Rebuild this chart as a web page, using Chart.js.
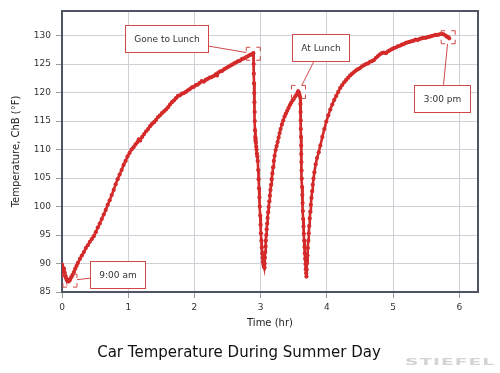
<!DOCTYPE html>
<html><head><meta charset="utf-8">
<script src="https://cdn.jsdelivr.net/npm/chart.js@4/dist/chart.umd.min.js"></script>
<style>html,body{margin:0;padding:0;background:#fff}canvas{display:block}</style>
</head><body>
<canvas id="c" width="500" height="373"></canvas>
<script>
// ---- data ----
const timeHr = [
0.000,0.005,0.010,0.015,0.020,0.025,0.030,0.040,0.050,0.060,0.070,0.080,0.090,0.100,0.110,0.120,0.140,0.160,0.180,0.200,0.220,0.240,0.270,0.300,0.330,0.360,0.390,0.420,0.450,0.480,0.510,0.540,0.570,0.600,0.630,0.660,0.690,0.720,0.750,0.780,0.810,0.840,0.870,0.900,0.930,0.960,0.990,1.020,1.050,1.080,1.110,1.140,1.160,1.180,1.210,1.240,1.270,1.300,1.330,1.360,1.390,1.420,1.450,1.480,1.510,1.540,1.570,1.600,1.630,1.660,1.690,1.720,1.750,1.780,1.810,1.840,1.870,1.900,1.930,1.960,1.990,2.020,2.050,2.080,2.110,2.140,2.170,2.200,2.230,2.260,2.290,2.320,2.340,2.360,2.390,2.420,2.450,2.480,2.510,2.540,2.570,2.600,2.630,2.660,2.690,2.720,2.750,2.780,2.810,2.840,2.865,2.888,
2.893,2.896,2.899,2.902,2.905,2.908,2.911,2.914,2.917,2.920,2.924,2.928,2.932,2.937,2.942,2.948,2.955,2.962,2.968,2.974,2.980,2.986,2.992,2.998,3.004,3.010,3.016,3.022,3.028,3.034,3.040,3.046,3.052,3.057,
3.060,3.064,3.068,3.073,3.078,3.084,3.090,3.097,3.104,3.112,3.120,3.129,3.138,3.147,3.156,3.166,3.176,3.187,3.198,3.210,3.225,3.240,3.255,3.270,3.285,3.300,3.320,3.340,3.360,3.380,3.400,3.420,3.440,3.460,3.480,3.500,3.520,3.540,3.555,3.565,3.575,3.585,3.595,
3.600,3.602,3.604,3.606,3.608,3.610,3.612,3.614,3.617,3.620,3.624,3.628,3.632,3.636,3.641,3.646,3.651,3.656,3.661,3.666,3.671,3.676,3.681,3.686,3.690,
3.695,3.700,3.706,3.712,3.718,3.725,3.732,3.740,3.748,3.757,3.766,3.776,3.786,3.797,3.810,3.830,3.850,3.875,3.900,3.930,3.960,3.990,4.020,4.050,4.080,4.110,4.140,4.170,4.200,4.230,4.260,4.290,4.320,4.350,4.380,4.410,4.440,4.470,4.500,4.530,4.560,4.590,4.620,4.650,4.680,4.710,4.740,4.770,4.800,4.830,4.860,4.890,4.920,4.950,4.980,5.010,5.040,5.070,5.100,5.130,5.160,5.190,5.220,5.250,5.280,5.310,5.340,5.370,5.400,5.430,5.460,5.490,5.520,5.550,5.580,5.610,5.640,5.670,5.700,5.730,5.760,5.790,5.810,5.830,5.845
];
const tempF = [
89.8,89.3,88.4,88.0,88.6,89.2,89.0,88.4,87.9,87.5,87.2,87.0,86.9,86.9,87.0,87.2,87.6,88.0,88.5,89.1,89.6,90.1,90.8,91.4,92.0,92.7,93.2,93.8,94.3,94.8,95.5,96.3,97.0,97.8,98.6,99.4,100.3,101.1,102.0,102.9,103.9,104.8,105.6,106.4,107.3,108.0,108.8,109.4,110.0,110.4,110.9,111.3,111.8,111.6,112.2,112.7,113.2,113.6,114.1,114.5,114.8,115.2,115.7,116.0,116.4,116.7,117.0,117.4,117.9,118.3,118.6,119.0,119.4,119.5,119.8,119.9,120.1,120.4,120.6,120.9,121.0,121.3,121.4,121.7,122.0,121.9,122.2,122.4,122.6,122.7,122.9,123.2,123.0,123.5,123.7,123.8,124.1,124.3,124.5,124.7,124.9,125.1,125.3,125.5,125.6,125.9,126.0,126.2,126.4,126.6,126.7,126.9,
125.0,123.3,121.6,119.9,118.3,116.6,115.0,113.4,112.2,111.6,111.9,111.2,110.5,110.0,109.3,108.8,108.0,106.4,104.8,103.2,101.6,100.0,98.4,96.8,95.3,94.0,92.8,91.8,91.0,90.3,89.9,89.6,89.4,89.3,
90.0,91.0,92.0,93.0,94.0,95.0,96.0,97.0,98.0,99.0,99.9,100.9,101.9,102.9,103.8,104.8,105.8,106.9,108.0,108.9,109.9,110.6,111.3,112.1,112.9,113.6,114.4,115.1,115.8,116.3,116.8,117.3,117.8,118.2,118.6,118.9,119.3,119.6,119.9,120.2,120.0,119.6,119.2,
118.0,116.6,115.1,113.6,112.2,110.7,109.2,107.8,106.3,104.9,103.4,102.0,100.6,99.2,97.8,96.5,95.2,94.0,92.9,91.8,90.8,89.9,89.0,88.3,87.7,
88.9,90.1,91.4,92.7,94.0,95.3,96.6,97.9,99.1,100.3,101.5,102.7,103.8,104.9,106.0,107.4,108.5,109.5,110.7,112.2,113.6,114.9,116.0,117.0,117.9,118.7,119.4,120.1,120.8,121.3,121.8,122.2,122.6,123.0,123.3,123.6,123.9,124.1,124.3,124.6,124.8,125.0,125.1,125.4,125.5,125.7,126.1,126.4,126.7,126.9,127.0,126.9,127.2,127.4,127.6,127.8,127.9,128.1,128.2,128.4,128.5,128.7,128.8,128.9,129.0,129.1,129.3,129.2,129.4,129.5,129.6,129.6,129.7,129.8,129.9,130.0,130.1,130.1,130.2,130.3,130.2,130.0,129.8,129.7,129.5
];
const xTickValues = [0, 1, 2, 3, 4, 5, 6];
const yTickValues = [85, 90, 95, 100, 105, 110, 115, 120, 125, 130];
const noteLabels = ['Gone to Lunch', 'At Lunch', '3:00 pm', '9:00 am'];
const noteTime = [2.888, 3.570, 5.830, 0.120];
const noteTemp = [126.8, 120.1, 129.7, 87.0];

// ---- styles / layout ----
const FONT = '"DejaVu Sans", Verdana, sans-serif';
const RED = '#d42a2a';
const BOX_RED = '#d24848';
const FRAME = '#4e5463';
const GRID = '#cfd0d8';
const noteBoxes = [ // offset of box centre from target pixel, and box size
  {dx: -86.5, dy: -14.8, w: 83, h: 27},
  {dx: 22.4, dy: -44.4, w: 57, h: 27},
  {dx: -6, dy: 61, w: 56, h: 27},
  {dx: 47.5, dy: -5.8, w: 55, h: 27}
];

const points = timeHr.map((t, i) => ({x: t, y: tempF[i]}));

const extrasPlugin = {
  id: 'extras',
  afterDatasetsDraw(chart) {
    const {ctx, chartArea: a, scales: {x, y}} = chart;
    ctx.save();
    // top & right frame
    ctx.strokeStyle = FRAME;
    ctx.lineWidth = 2;
    ctx.beginPath();
    ctx.moveTo(a.left, a.top); ctx.lineTo(a.right, a.top); ctx.lineTo(a.right, a.bottom);
    ctx.stroke();
    // annotations
    noteLabels.forEach((label, i) => {
      const px = x.getPixelForValue(noteTime[i]);
      const py = y.getPixelForValue(noteTemp[i]);
      const b = noteBoxes[i];
      const cx = px + b.dx, cy = py + b.dy;
      const bw = 7, bh = 6.5, arm = 4;
      const vx = px - cx, vy = py - cy;
      const s1 = Math.min(b.w / 2 / Math.abs(vx || 1e-9), b.h / 2 / Math.abs(vy || 1e-9));
      const s2 = Math.min(bw / Math.abs(vx || 1e-9), bh / Math.abs(vy || 1e-9));
      ctx.strokeStyle = BOX_RED;
      ctx.lineWidth = 1;
      ctx.beginPath();
      ctx.moveTo(cx + vx * s1, cy + vy * s1);
      ctx.lineTo(px - vx * s2, py - vy * s2);
      ctx.stroke();
      const L = px - bw, R = px + bw, T = py - bh, B = py + bh;
      ctx.beginPath();
      ctx.moveTo(L, T + arm); ctx.lineTo(L, T); ctx.lineTo(L + arm, T);
      ctx.moveTo(R - arm, T); ctx.lineTo(R, T); ctx.lineTo(R, T + arm);
      ctx.moveTo(R, B - arm); ctx.lineTo(R, B); ctx.lineTo(R - arm, B);
      ctx.moveTo(L + arm, B); ctx.lineTo(L, B); ctx.lineTo(L, B - arm);
      ctx.stroke();
      const bx = Math.round(cx - b.w / 2) + 0.5, by = Math.round(cy - b.h / 2) + 0.5;
      ctx.fillStyle = '#fff';
      ctx.fillRect(bx, by, b.w, b.h);
      ctx.strokeRect(bx, by, b.w, b.h);
      ctx.fillStyle = '#333';
      ctx.font = '9px ' + FONT;
      ctx.textAlign = 'center';
      ctx.textBaseline = 'middle';
      ctx.fillText(label, bx + b.w / 2, by + b.h / 2 + 0.5);
    });
    ctx.restore();
  },
  afterDraw(chart) {
    const ctx = chart.ctx;
    ctx.save();
    ctx.font = 'bold 10px ' + FONT;
    const txt = 'STIEFEL';
    ctx.letterSpacing = '0.5px';
    const w = ctx.measureText(txt).width;
    ctx.translate(405, 363);
    ctx.scale(90 / w, 0.85);
    ctx.fillStyle = '#d4d4d4';
    ctx.textAlign = 'left';
    ctx.textBaseline = 'middle';
    ctx.fillText(txt, 0, 0);
    ctx.restore();
  }
};

new Chart(document.getElementById('c'), {
  type: 'line',
  data: {
    datasets: [{
      data: points,
      borderColor: RED,
      backgroundColor: RED,
      borderWidth: 2.6,
      pointRadius: 2.1,
      pointBorderWidth: 0,
      pointBackgroundColor: RED,
      tension: 0,
      fill: false
    }]
  },
  options: {
    responsive: false,
    animation: false,
    devicePixelRatio: 1,
    layout: {padding: {top: 11, right: 22, left: 0, bottom: 0}},
    plugins: {
      legend: {display: false},
      tooltip: {enabled: false},
      title: {
        display: true,
        position: 'bottom',
        text: 'Car Temperature During Summer Day',
        color: '#111',
        font: {family: FONT, size: 15, weight: 'normal', lineHeight: 1.2},
        padding: {top: 6, bottom: 11}
      }
    },
    scales: {
      x: {
        type: 'linear',
        min: 0,
        max: 6.28,
        afterBuildTicks: s => { s.ticks = xTickValues.map(v => ({value: v})); },
        afterFit: s => { s.height = 46; },
        grid: {color: GRID, lineWidth: 1, tickLength: 6, tickColor: '#9a9a9a'},
        border: {display: true, color: FRAME, width: 2},
        ticks: {color: '#333', font: {family: FONT, size: 9}, padding: 4, maxRotation: 0},
        title: {display: true, text: 'Time (hr)', color: '#222', font: {family: FONT, size: 10}, padding: {top: 0, bottom: 8.5}}
      },
      y: {
        type: 'linear',
        min: 85,
        max: 134.3,
        afterBuildTicks: s => { s.ticks = yTickValues.map(v => ({value: v})); },
        afterFit: s => { s.width = 62; },
        grid: {color: GRID, lineWidth: 1, tickLength: 6, tickColor: '#9a9a9a'},
        border: {display: true, color: FRAME, width: 2},
        ticks: {color: '#333', font: {family: FONT, size: 9}, padding: 5},
        title: {display: true, text: 'Temperature, ChB (°F)', color: '#222', font: {family: FONT, size: 10}, padding: {top: 10, bottom: 0}}
      }
    }
  },
  plugins: [extrasPlugin]
});
</script>
</body></html>
